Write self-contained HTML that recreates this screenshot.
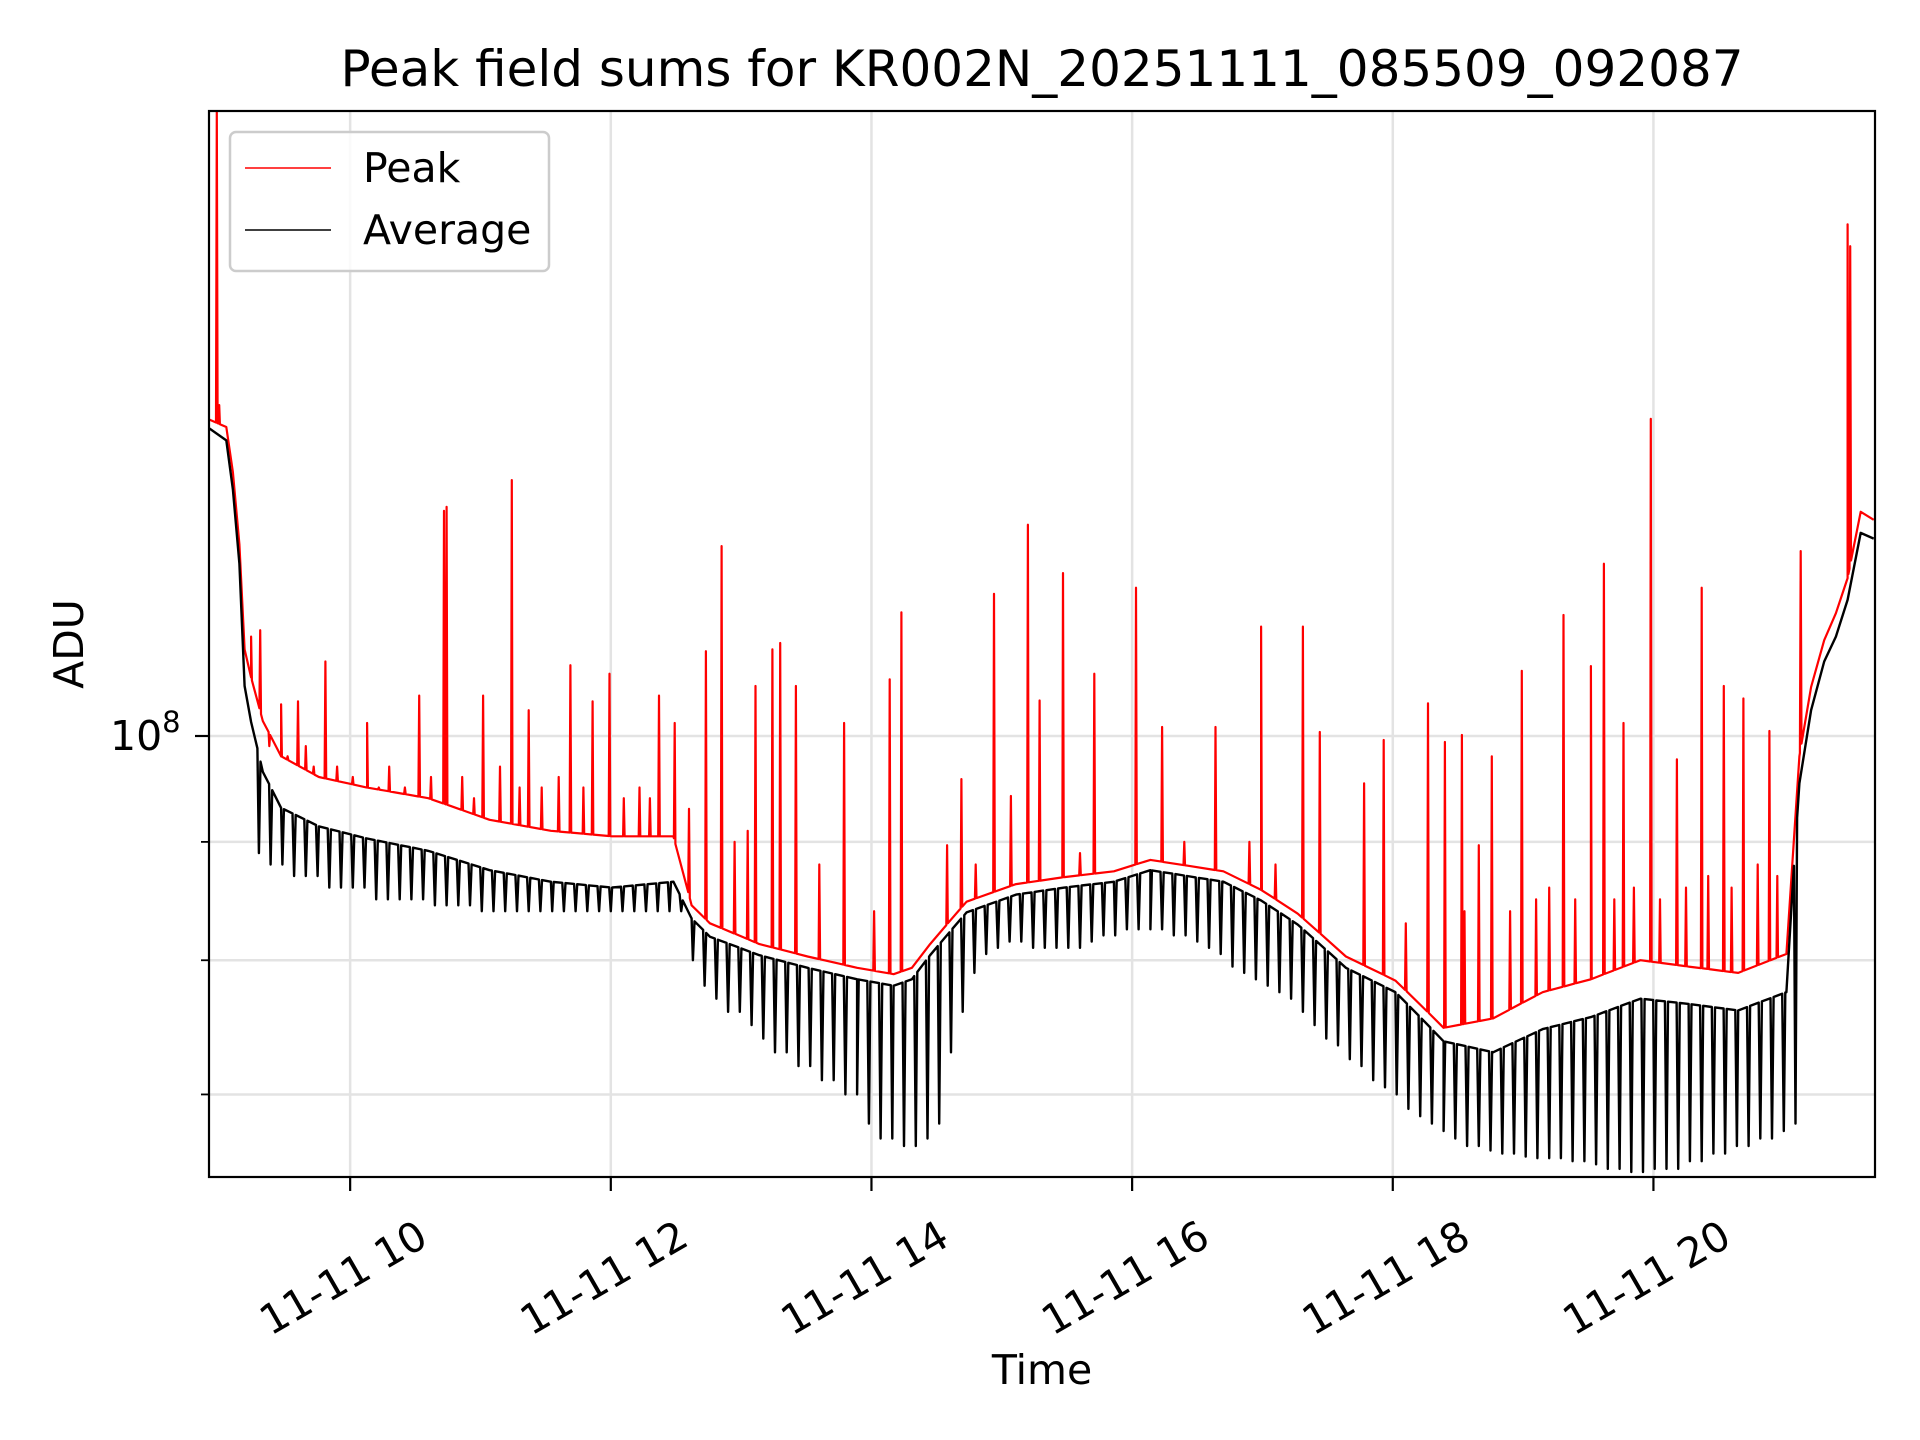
<!DOCTYPE html>
<html>
<head>
<meta charset="utf-8">
<style>
  html,body{margin:0;padding:0;background:#fff;}
  svg{display:block;font-family:"DejaVu Sans","Liberation Sans",sans-serif;}
</style>
</head>
<body>
<svg id="chart" width="1920" height="1440" viewBox="0 0 1920 1440" xmlns="http://www.w3.org/2000/svg">
  <rect x="0" y="0" width="1920" height="1440" fill="#fff"/>
  <text x="1042" y="86" font-size="50" text-anchor="middle" fill="#000">Peak field sums for KR002N_20251111_085509_092087</text>
  <g id="grid"></g>
  <defs><clipPath id="plotclip"><rect x="209" y="111" width="1666" height="1066"/></clipPath></defs>
  <g id="series" clip-path="url(#plotclip)"></g>
  <rect x="209" y="111" width="1666" height="1066" fill="none" stroke="#000" stroke-width="2.2"/>
  <g id="axes"></g>
  <text x="1042" y="1384" font-size="41" text-anchor="middle" fill="#000">Time</text>
  <text x="0" y="0" font-size="41" text-anchor="middle" fill="#000" transform="translate(83,644) rotate(-90)">ADU</text>
  <g>
    <rect x="230" y="132" width="319" height="139" rx="6" fill="#fff" fill-opacity="0.8" stroke="#ccc" stroke-width="2.5"/>
    <line x1="245" y1="168" x2="331" y2="168" stroke="#f00" stroke-width="1.5"/>
    <text x="363" y="182" font-size="41" fill="#000">Peak</text>
    <line x1="245" y1="230" x2="331" y2="230" stroke="#000" stroke-width="1.5"/>
    <text x="363" y="244" font-size="41" fill="#000">Average</text>
  </g>
</svg>
<script>
// ---- data (hours of 2025-11-11, values in millions of ADU) ----
const baseTimes = [8.92,9.05,9.10,9.15,9.19,9.24,9.33,9.47,9.76,10.13,10.60,11.07,11.54,12.01,12.48,12.62,12.76,13.14,13.51,13.89,14.17,14.31,14.45,14.73,15.11,15.48,15.86,16.14,16.42,16.70,16.99,17.27,17.64,18.02,18.39,18.77,19.15,19.52,19.90,20.27,20.65,21.02,21.12,21.21,21.31,21.40,21.49,21.59,21.69];
const averageValues = [135.8,134.2,127.8,118.7,105.1,101.4,96.5,93.1,91.4,90.3,89.2,87.5,86.5,86.0,86.5,83.4,81.9,80.4,79.4,78.5,78.0,78.5,80.4,83.9,85.4,86.0,86.5,87.5,87.0,86.5,84.9,82.9,79.4,77.5,73.8,73.0,74.7,75.6,77.0,76.6,76.1,77.5,95.4,102.6,107.7,110.4,114.5,122.4,121.7];
const peakValues = [137,136,130,121,109,106,101.5,98,96,95,94,92,91,90.5,90.5,84.5,83,81.3,80.3,79.4,78.9,79.4,81.3,84.8,86.3,86.9,87.4,88.4,87.9,87.4,85.8,83.8,80.3,78.4,74.8,75.5,77.5,78.5,80,79.5,79,80.5,98,105,110,113,117,125,124];
// periodic dips in the average series (one every 0.09 h starting 9.30 h)
const dipStart = 9.30;
const dipPeriod = 0.09;
const dipValues = [89,88,88,87,87,87,86,86,
 86,86,85,85,85,85,85,84.5,84.5,84.5,84.5,84,84,84,84,84,84,84,
 84,84,84,84,84,84,84,84,84,84,84,
 80,78,77,76,76,75,
 74,73,73,72,72,71,71,70,70,
 68,67,67,66.5,66.5,67,68,
 73,76,79,
 80.5,81,81.5,81.5,81,81,81,81,81,
 81.5,82,82,82.5,82.5,82.5,82.5,82,82,81.5,81,80.5,
 79.5,79,78.5,78,77.5,77,76,
 75,74,73.5,72.5,72,71,70.5,
 70,69,68.5,68,67.5,67,66.5,66.5,
 66.2,66,66,65.8,65.7,65.7,65.7,65.5,65.5,65.3,
 65,65,64.8,64.8,65,65,65,65.5,65.5,
 66,66,66.5,66.5,67,67,67.5,68];
// spikes in the peak series
const spikeTimes = [8.977,8.995,9.24,9.31,9.47,9.60,9.81,10.13,10.53,10.72,10.74,11.02,11.24,11.37,11.69,11.86,11.99,12.37,12.49,12.73,12.85,13.11,13.24,13.30,13.42,13.79,14.14,14.23,14.58,14.69,14.94,15.07,15.20,15.29,15.47,15.71,16.03,16.23,16.64,16.99,17.31,17.44,17.78,17.93,18.27,18.40,18.53,18.66,18.76,18.99,19.31,19.52,19.62,19.77,19.98,20.18,20.37,20.54,20.69,20.89,21.13,21.49,21.51,
 9.38,9.52,9.66,9.72,9.90,10.02,10.22,10.30,10.42,10.62,10.86,10.95,11.15,11.30,11.47,11.60,11.79,12.10,12.22,12.30,12.60,12.95,13.05,13.60,14.02,14.80,15.60,16.40,16.90,17.10,18.10,18.55,18.90,19.10,19.20,19.40,19.70,19.85,20.05,20.25,20.42,20.60,20.80,20.95];
const spikeValues = [186,139,110.4,111.1,103.2,103.5,107.7,101.3,104.1,125.1,125.6,104.1,129.0,102.6,107.3,103.5,106.4,104.1,101.3,108.8,120.8,105.1,109.0,109.7,105.1,101.3,105.8,113.1,89.7,95.8,115.2,94.2,123.4,103.6,117.6,106.4,115.9,100.9,100.9,111.5,111.5,100.4,95.4,99.6,103.3,99.4,100.1,89.7,98.0,106.7,112.8,107.2,118.7,101.3,137.1,97.7,115.9,105.1,103.8,100.5,120.2,166.4,162.8,
 99,98,99,97,97,96,95,97,95,96,96,94,97,95,95,96,95,94,95,94,93,90,91,88,84,88,89,90,90,88,83,84,84,85,86,85,85,86,85,86,87,86,88,87];
const xTickHours = [10,12,14,16,18,20];
const xTickLabels = ["11-11 10","11-11 12","11-11 14","11-11 16","11-11 18","11-11 20"];
const yMinorTicks = [90,80,70];

// ---- axes ----
const X0=209, X1=1875, Y0=111, Y1=1177;
const T0=8.917, T1=21.70;
function xs(t){ return X0 + (t - T0) / (T1 - T0) * (X1 - X0); }
function ys(v){ return 736 - 2314 * Math.log10(v / 100); }

const NS="http://www.w3.org/2000/svg";
function mk(tag, attrs, parent){
  const e=document.createElementNS(NS,tag);
  for(const k in attrs) e.setAttribute(k, attrs[k]);
  parent.appendChild(e); return e;
}
const grid=document.getElementById('grid');
const axes=document.getElementById('axes');
const series=document.getElementById('series');

xTickHours.forEach((h,i)=>{
  const x=xs(h);
  const g=mk('line',{x1:x,y1:Y0,x2:x,y2:Y1,stroke:'#e3e3e3','stroke-width':2.5},grid);
  
  
  const t=mk('line',{x1:x,y1:Y1,x2:x,y2:Y1+14,stroke:'#000','stroke-width':2.2},axes);
  
  
  const lb=mk('text',{x:0,y:0,'font-size':41,'text-anchor':'end',fill:'#000',transform:`translate(${x+80},1244) rotate(-30)`},axes);
  lb.textContent=xTickLabels[i];
  
  
});
{
  const y=ys(100);
  const g=mk('line',{x1:X0,y1:y,x2:X1,y2:y,stroke:'#e3e3e3','stroke-width':2.5},grid);
  
  
  const t=mk('line',{x1:X0-14,y1:y,x2:X0,y2:y,stroke:'#000','stroke-width':2.2},axes);
  
  
  const lb=mk('text',{x:110,y:y+14,'font-size':41,fill:'#000'},axes);
  lb.innerHTML='10<tspan dy="-18" font-size="29">8</tspan>';
  
  
}
yMinorTicks.forEach(v=>{
  const y=ys(v);
  const g=mk('line',{x1:X0,y1:y,x2:X1,y2:y,stroke:'#e3e3e3','stroke-width':2.5},grid);
  
  
  const t=mk('line',{x1:X0-8,y1:y,x2:X0,y2:y,stroke:'#000','stroke-width':1.8},axes);
  
  
});

// ---- series ----
function baseAt(vals,t){
  if(t<=baseTimes[0]) return vals[0];
  for(let i=1;i<baseTimes.length;i++){
    if(t<=baseTimes[i]){
      const f=(t-baseTimes[i-1])/(baseTimes[i]-baseTimes[i-1]);
      return vals[i-1]+f*(vals[i]-vals[i-1]);
    }
  }
  return vals[vals.length-1];
}
function buildPath(vals, evTimes, evVals, hw){
  const pts=[];
  baseTimes.forEach((t,i)=>pts.push([t,vals[i]]));
  evTimes.forEach((t,i)=>{
    pts.push([t-hw, baseAt(vals,t-hw)]);
    pts.push([t, evVals[i]]);
    pts.push([t+hw, baseAt(vals,t+hw)]);
  });
  pts.sort((a,b)=>a[0]-b[0]);
  return pts.map((p,i)=>(i?'L':'M')+xs(p[0]).toFixed(1)+' '+ys(p[1]).toFixed(1)).join(' ');
}
const dipTimes = dipValues.map((v,i)=>dipStart+i*dipPeriod);
const red=mk('path',{d:buildPath(peakValues,spikeTimes,spikeValues,0.006),fill:'none',stroke:'#f00','stroke-width':2.2,'stroke-linejoin':'round'},series);


const blk=mk('path',{d:buildPath(averageValues,dipTimes,dipValues,0.012),fill:'none',stroke:'#000','stroke-width':2.4,'stroke-linejoin':'round'},series);


</script>
</body>
</html>
